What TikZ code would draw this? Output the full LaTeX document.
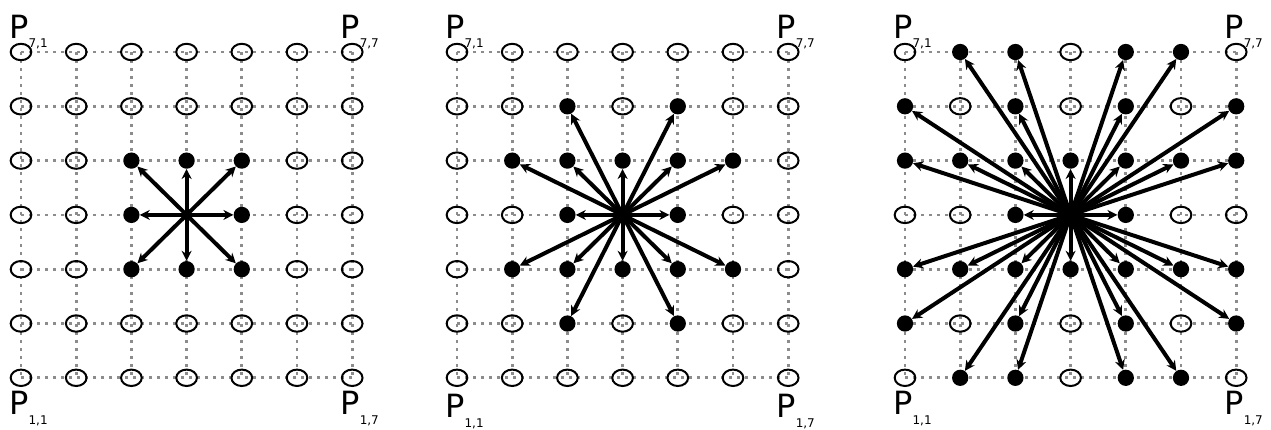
\documentclass[tikz,border=0pt]{standalone}
\usepackage{fontspec}
\setmainfont{DejaVu Sans}
\usetikzlibrary{arrows.meta,backgrounds,shapes.geometric}

\tikzset{
  cell/.style={draw, ellipse, line width=1.5pt, minimum width=15.5pt, minimum height=12.3pt, inner sep=0pt},
  hub/.style={circle, minimum size=2pt, inner sep=0pt},
  hit/.style={circle, fill=black, minimum size=12.2pt, inner sep=0pt},
  ray/.style={line width=3pt, -{Stealth[length=7.5pt,width=7.5pt]}},
  grid/.style={gray!90, line width=2.1pt, dash pattern=on 2.1pt off 3.9pt},
  plabel/.style={anchor=base west, inner sep=0pt}
}
\newcommand\plab[1]{{\fontsize{24}{24}\selectfont P}\raisebox{-7.2pt}{\fontsize{9}{9}\selectfont #1}}

\begin{document}
\begin{tikzpicture}[x=0.75pt,y=-0.75pt]
  \useasboundingbox (0,0) rectangle (1271,429);
  \foreach \p/\ox/\k/\lo in {a/21/1/37, b/457/2/40, c/905/3/37} {
    % points of the grid
    \foreach \r in {1,...,7} {
      \foreach \c in {1,...,7} {
        \pgfmathtruncatemacro\hit{and(max(abs(\c-4),abs(\r-4))<\k+0.5,
          and(not(and(mod(abs(\c-4),2)==0,mod(abs(\r-4),2)==0)),
              not(and(mod(abs(\c-4),3)==0,mod(abs(\r-4),3)==0))))}
        \pgfmathtruncatemacro\mid{and(\c==4,\r==4)}
        \ifnum\mid=1
          \node[hub] (\p-\r-\c) at ({\ox+(\c-1)*55.2},{52+(\r-1)*54.3}) {};
        \else\ifnum\hit=1
          \node[hit] (\p-\r-\c) at ({\ox+(\c-1)*55.2},{52+(\r-1)*54.3}) {};
        \else
          \node[cell] (\p-\r-\c) at ({\ox+(\c-1)*55.2},{52+(\r-1)*54.3}) {};
        \fi\fi
      }
    }
    % dotted grid lines
    \begin{pgfonlayer}{background}
      \foreach \i in {1,...,7} {
        \draw[grid] (\p-\i-1.center) -- (\p-\i-7.center);
        \draw[grid] (\p-1-\i.center) -- (\p-7-\i.center);
      }
    \end{pgfonlayer}
    % rays from the centre
    \foreach \r in {1,...,7} {
      \foreach \c in {1,...,7} {
        \pgfmathtruncatemacro\hit{and(max(abs(\c-4),abs(\r-4))<\k+0.5,
          and(not(and(mod(abs(\c-4),2)==0,mod(abs(\r-4),2)==0)),
              not(and(mod(abs(\c-4),3)==0,mod(abs(\r-4),3)==0))))}
        \ifnum\hit=1
          \draw[ray] (\p-4-4.center) -- (\p-\r-\c);
        \fi
      }
    }
    % corner labels
    \node[plabel] (\p-tl) at ([shift={(-12,-14)}]\p-1-1.center) {\plab{7,1}};
    \node[plabel] (\p-tr) at ([shift={(-12,-14)}]\p-1-7.center) {\plab{7,7}};
    \node[plabel] (\p-bl) at ([shift={(-12,\lo)}]\p-7-1.center) {\plab{1,1}};
    \node[plabel] (\p-br) at ([shift={(-12,\lo)}]\p-7-7.center) {\plab{1,7}};
  }
\end{tikzpicture}
\end{document}
